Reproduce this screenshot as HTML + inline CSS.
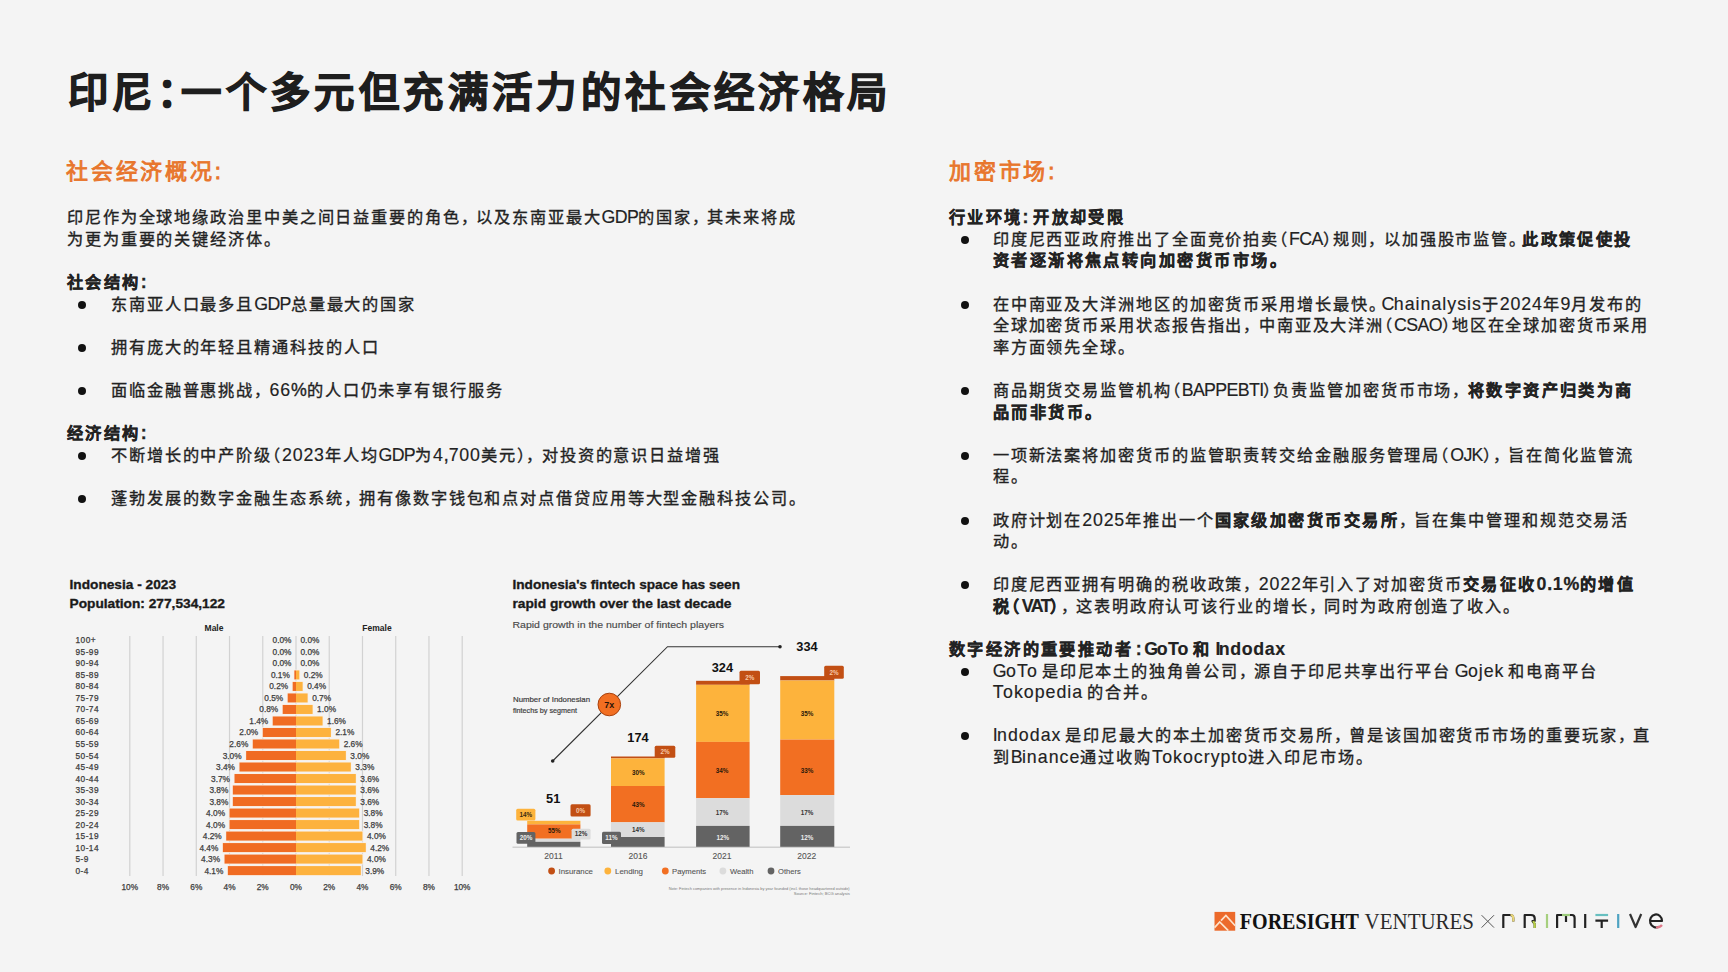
<!DOCTYPE html>
<html lang="zh-CN"><head><meta charset="utf-8">
<style>
*{margin:0;padding:0;box-sizing:border-box}
html,body{width:1728px;height:972px;overflow:hidden;background:#f4f4f4}
body{position:relative;font-family:"Liberation Sans",sans-serif;color:#1f1f1f}
.t{position:absolute;white-space:nowrap}
#title{left:68px;top:64.5px;font-size:40.4px;font-weight:bold;color:#1e1e1e;line-height:56px;letter-spacing:4.4px;-webkit-text-stroke:1.1px #1e1e1e}
.h2{font-size:22px;font-weight:normal;color:#e8762d;line-height:30px;letter-spacing:2.8px;-webkit-text-stroke:0.9px #e8762d}
.col{position:absolute;font-size:17.8px;line-height:21.6px;color:#222;letter-spacing:0px;word-spacing:-1.2px;-webkit-text-stroke:0.35px #222}
.col p{white-space:nowrap;height:21.6px}
.col .b,.col b{font-weight:bold;letter-spacing:0.55px;word-spacing:-1.5px;-webkit-text-stroke:0.3px #222}
.col li{list-style:none;position:relative;padding-left:44px}
.col li::before{content:"";position:absolute;left:11px;top:7px;width:8px;height:8px;border-radius:50%;background:#111}
.gap{height:21.6px}
.r li::before{left:12.2px}
.h{font-feature-settings:"halt";font-style:normal}
.c{font-feature-settings:"halt";font-style:normal;margin-right:5.5px}
.U{text-decoration:none;letter-spacing:-0.65px;-webkit-text-stroke-width:0.15px}
.L{text-decoration:none;letter-spacing:1px;-webkit-text-stroke-width:0.15px}
.D{text-decoration:none;letter-spacing:0.8px;-webkit-text-stroke-width:0.15px}
.b .U,b .U{letter-spacing:-1.5px}
.b .L,b .L{letter-spacing:0.6px}
.C{font-size:16.2px;letter-spacing:1.9px}
.b .C,b .C{letter-spacing:2.45px}
.p{font-feature-settings:"halt";font-style:normal;margin-right:3px}
</style></head><body>
<div id="title" class="t">印尼<i class="h">：</i>一个多元但充满活力的社会经济格局</div>

<div class="t h2" style="left:66px;top:157px">社会经济概况:</div>
<div class="t h2" style="left:949px;top:157px">加密市场:</div>

<div class="col" style="left:67px;top:207.2px;width:800px">
<p><span class="C">印尼作为全球地缘政治里中美之间日益重要的角色</span><i class="c"><span class="C">，</span></i><span class="C">以及东南亚最大</span><s class="U">GDP</s><span class="C">的国家</span><i class="c"><span class="C">，</span></i><span class="C">其未来将成</span></p>
<p><span class="C">为更为重要的关键经济体。</span></p>
<div class="gap"></div>
<p class="b"><span class="C">社会结构</span>:</p>
<ul>
<li><p><span class="C">东南亚人口最多且</span><s class="U">GDP</s><span class="C">总量最大的国家</span></p></li>
<div class="gap"></div>
<li><p><span class="C">拥有庞大的年轻且精通科技的人口</span></p></li>
<div class="gap"></div>
<li><p><span class="C">面临金融普惠挑战</span><i class="c"><span class="C">，</span></i><u class="D">66</u>%<span class="C">的人口仍未享有银行服务</span></p></li>
</ul>
<div class="gap"></div>
<p class="b"><span class="C">经济结构</span>:</p>
<ul>
<li><p><span class="C">不断增长的中产阶级</span><i class="h"><span class="C">（</span></i><u class="D">2023</u><span class="C">年人均</span><s class="U">GDP</s><span class="C">为</span><u class="D">4</u>,<u class="D">700</u><span class="C">美元</span><i class="h"><span class="C">）</span></i><i class="c"><span class="C">，</span></i><span class="C">对投资的意识日益增强</span></p></li>
<div class="gap"></div>
<li><p><span class="C">蓬勃发展的数字金融生态系统</span><i class="c"><span class="C">，</span></i><span class="C">拥有像数字钱包和点对点借贷应用等大型金融科技公司。</span></p></li>
</ul>
</div>

<div class="col r" style="left:948.8px;top:207.2px;width:720px">
<p class="b"><span class="C">行业环境</span>: <span class="C">开放却受限</span></p>
<ul>
<li><p><span class="C">印度尼西亚政府推出了全面竞价拍卖</span><i class="h"><span class="C">（</span></i><s class="U">FCA</s><i class="h"><span class="C">）</span></i><span class="C">规则</span><i class="c"><span class="C">，</span></i><span class="C">以加强股市监管</span><i class="p"><span class="C">。</span></i><b><span class="C">此政策促使投</span></b></p><p class="b"><span class="C">资者逐渐将焦点转向加密货币市场。</span></p></li>
<div class="gap"></div>
<li><p><span class="C">在中南亚及大洋洲地区的加密货币采用增长最快</span><i class="p"><span class="C">。</span></i><s class="U">C</s><s class="L">hainalysis</s><span class="C">于</span><u class="D">2024</u><span class="C">年</span><u class="D">9</u><span class="C">月发布的</span></p><p><span class="C">全球加密货币采用状态报告指出</span><i class="c"><span class="C">，</span></i><span class="C">中南亚及大洋洲</span><i class="h"><span class="C">（</span></i><s class="U">CSAO</s><i class="h"><span class="C">）</span></i><span class="C">地区在全球加密货币采用</span></p><p><span class="C">率方面领先全球。</span></p></li>
<div class="gap"></div>
<li><p><span class="C">商品期货交易监管机构</span><i class="h"><span class="C">（</span></i><s class="U">BAPPEBTI</s><i class="h"><span class="C">）</span></i><span class="C">负责监管加密货币市场</span><i class="c"><span class="C">，</span></i><b><span class="C">将数字资产归类为商</span></b></p><p class="b"><span class="C">品而非货币。</span></p></li>
<div class="gap"></div>
<li><p><span class="C">一项新法案将加密货币的监管职责转交给金融服务管理局</span><i class="h"><span class="C">（</span></i><s class="U">OJK</s><i class="h"><span class="C">）</span></i><i class="c"><span class="C">，</span></i><span class="C">旨在简化监管流</span></p><p><span class="C">程。</span></p></li>
<div class="gap"></div>
<li><p><span class="C">政府计划在</span><u class="D">2025</u><span class="C">年推出一个</span><b><span class="C">国家级加密货币交易所</span></b><i class="c"><span class="C">，</span></i><span class="C">旨在集中管理和规范交易活</span></p><p><span class="C">动。</span></p></li>
<div class="gap"></div>
<li><p><span class="C">印度尼西亚拥有明确的税收政策</span><i class="c"><span class="C">，</span></i><u class="D">2022</u><span class="C">年引入了对加密货币</span><b><span class="C">交易征收</span><u class="D">0</u>.<u class="D">1</u>%<span class="C">的增值</span></b></p><p><b><span class="C">税</span><i class="h"><span class="C">（</span></i><s class="U">VAT</s><i class="h"><span class="C">）</span></i></b><i class="c"><span class="C">，</span></i><span class="C">这表明政府认可该行业的增长</span><i class="c"><span class="C">，</span></i><span class="C">同时为政府创造了收入。</span></p></li>
</ul>
<div class="gap"></div>
<p class="b"><span class="C">数字经济的重要推动者</span><i style="font-style:normal;margin:0 2px 0 2.5px">:</i><s class="U">G</s><s class="L">o</s><s class="U">T</s><s class="L">o</s> <span class="C">和</span> <s class="U">I</s><s class="L">ndodax</s></p>
<ul>
<li><p><s class="U">G</s><s class="L">o</s><s class="U">T</s><s class="L">o</s> <span class="C">是印尼本土的独角兽公司</span><i class="c"><span class="C">，</span></i><span class="C">源自于印尼共享出行平台</span> <s class="U">G</s><s class="L">ojek</s> <span class="C">和电商平台</span></p><p><s class="U">T</s><s class="L">okopedia</s> <span class="C">的合并。</span></p></li>
<div class="gap"></div>
<li><p><s class="U">I</s><s class="L">ndodax</s> <span class="C">是印尼最大的本土加密货币交易所</span><i class="c"><span class="C">，</span></i><span class="C">曾是该国加密货币市场的重要玩家</span><i class="c"><span class="C">，</span></i><span class="C">直</span></p><p><span class="C">到</span><s class="U">B</s><s class="L">inance</s><span class="C">通过收购</span><s class="U">T</s><s class="L">okocrypto</s><span class="C">进入印尼市场。</span></p></li>
</ul>
</div>

<svg id="charts" width="1728" height="972" viewBox="0 0 1728 972" style="position:absolute;left:0;top:0">
<g font-family="Liberation Sans, sans-serif">
<text x="69.5" y="589" font-size="13.5" font-weight="bold" fill="#1a1a1a" stroke="#1a1a1a" stroke-width="0.35" textLength="106.5" lengthAdjust="spacingAndGlyphs">Indonesia - 2023</text>
<text x="69.5" y="607.6" font-size="13.5" font-weight="bold" fill="#1a1a1a" stroke="#1a1a1a" stroke-width="0.35" textLength="155.5" lengthAdjust="spacingAndGlyphs">Population: 277,534,122</text>
<text x="214" y="631" font-size="8.5" font-weight="bold" fill="#222" text-anchor="middle">Male</text>
<text x="377" y="631" font-size="8.5" font-weight="bold" fill="#222" text-anchor="middle">Female</text>
<rect x="129.20" y="636" width="1.2" height="240" fill="#d2d2d2"/>
<text x="129.80" y="889.5" font-size="8.3" fill="#3d3d3d" text-anchor="middle" stroke="#3d3d3d" stroke-width="0.25">10%</text>
<rect x="162.44" y="636" width="1.2" height="240" fill="#d2d2d2"/>
<text x="163.04" y="889.5" font-size="8.3" fill="#3d3d3d" text-anchor="middle" stroke="#3d3d3d" stroke-width="0.25">8%</text>
<rect x="195.68" y="636" width="1.2" height="240" fill="#d2d2d2"/>
<text x="196.28" y="889.5" font-size="8.3" fill="#3d3d3d" text-anchor="middle" stroke="#3d3d3d" stroke-width="0.25">6%</text>
<rect x="228.92" y="636" width="1.2" height="240" fill="#d2d2d2"/>
<text x="229.52" y="889.5" font-size="8.3" fill="#3d3d3d" text-anchor="middle" stroke="#3d3d3d" stroke-width="0.25">4%</text>
<rect x="262.16" y="636" width="1.2" height="240" fill="#d2d2d2"/>
<text x="262.76" y="889.5" font-size="8.3" fill="#3d3d3d" text-anchor="middle" stroke="#3d3d3d" stroke-width="0.25">2%</text>
<rect x="295.40" y="636" width="1.2" height="240" fill="#d2d2d2"/>
<text x="296.00" y="889.5" font-size="8.3" fill="#3d3d3d" text-anchor="middle" stroke="#3d3d3d" stroke-width="0.25">0%</text>
<rect x="328.64" y="636" width="1.2" height="240" fill="#d2d2d2"/>
<text x="329.24" y="889.5" font-size="8.3" fill="#3d3d3d" text-anchor="middle" stroke="#3d3d3d" stroke-width="0.25">2%</text>
<rect x="361.88" y="636" width="1.2" height="240" fill="#d2d2d2"/>
<text x="362.48" y="889.5" font-size="8.3" fill="#3d3d3d" text-anchor="middle" stroke="#3d3d3d" stroke-width="0.25">4%</text>
<rect x="395.12" y="636" width="1.2" height="240" fill="#d2d2d2"/>
<text x="395.72" y="889.5" font-size="8.3" fill="#3d3d3d" text-anchor="middle" stroke="#3d3d3d" stroke-width="0.25">6%</text>
<rect x="428.36" y="636" width="1.2" height="240" fill="#d2d2d2"/>
<text x="428.96" y="889.5" font-size="8.3" fill="#3d3d3d" text-anchor="middle" stroke="#3d3d3d" stroke-width="0.25">8%</text>
<rect x="461.60" y="636" width="1.2" height="240" fill="#d2d2d2"/>
<text x="462.20" y="889.5" font-size="8.3" fill="#3d3d3d" text-anchor="middle" stroke="#3d3d3d" stroke-width="0.25">10%</text>
<text x="291.50" y="643.40" font-size="8.3" fill="#3d3d3d" text-anchor="end" stroke="#3d3d3d" stroke-width="0.25">0.0%</text>
<text x="300.50" y="643.40" font-size="8.3" fill="#3d3d3d" stroke="#3d3d3d" stroke-width="0.25">0.0%</text>
<text x="75.5" y="643.40" font-size="8.3" fill="#3d3d3d" letter-spacing="0.45" stroke="#3d3d3d" stroke-width="0.25">100+</text>
<text x="291.50" y="654.91" font-size="8.3" fill="#3d3d3d" text-anchor="end" stroke="#3d3d3d" stroke-width="0.25">0.0%</text>
<text x="300.50" y="654.91" font-size="8.3" fill="#3d3d3d" stroke="#3d3d3d" stroke-width="0.25">0.0%</text>
<text x="75.5" y="654.91" font-size="8.3" fill="#3d3d3d" letter-spacing="0.45" stroke="#3d3d3d" stroke-width="0.25">95-99</text>
<text x="291.50" y="666.42" font-size="8.3" fill="#3d3d3d" text-anchor="end" stroke="#3d3d3d" stroke-width="0.25">0.0%</text>
<text x="300.50" y="666.42" font-size="8.3" fill="#3d3d3d" stroke="#3d3d3d" stroke-width="0.25">0.0%</text>
<text x="75.5" y="666.42" font-size="8.3" fill="#3d3d3d" letter-spacing="0.45" stroke="#3d3d3d" stroke-width="0.25">90-94</text>
<rect x="293.54" y="669.63" width="6.59" height="10.6" fill="#f9efe6"/>
<rect x="294.34" y="670.43" width="1.66" height="9" fill="#f06b22"/>
<rect x="296.00" y="670.43" width="3.32" height="9" fill="#fdb23e"/>
<text x="289.84" y="677.93" font-size="8.3" fill="#3d3d3d" text-anchor="end" stroke="#3d3d3d" stroke-width="0.25">0.1%</text>
<text x="303.82" y="677.93" font-size="8.3" fill="#3d3d3d" stroke="#3d3d3d" stroke-width="0.25">0.2%</text>
<text x="75.5" y="677.93" font-size="8.3" fill="#3d3d3d" letter-spacing="0.45" stroke="#3d3d3d" stroke-width="0.25">85-89</text>
<rect x="291.88" y="681.14" width="11.57" height="10.6" fill="#f9efe6"/>
<rect x="292.68" y="681.94" width="3.32" height="9" fill="#f06b22"/>
<rect x="296.00" y="681.94" width="6.65" height="9" fill="#fdb23e"/>
<text x="288.18" y="689.44" font-size="8.3" fill="#3d3d3d" text-anchor="end" stroke="#3d3d3d" stroke-width="0.25">0.2%</text>
<text x="307.15" y="689.44" font-size="8.3" fill="#3d3d3d" stroke="#3d3d3d" stroke-width="0.25">0.4%</text>
<text x="75.5" y="689.44" font-size="8.3" fill="#3d3d3d" letter-spacing="0.45" stroke="#3d3d3d" stroke-width="0.25">80-84</text>
<rect x="286.89" y="692.65" width="21.54" height="10.6" fill="#f9efe6"/>
<rect x="287.69" y="693.45" width="8.31" height="9" fill="#f06b22"/>
<rect x="296.00" y="693.45" width="11.63" height="9" fill="#fdb23e"/>
<text x="283.19" y="700.95" font-size="8.3" fill="#3d3d3d" text-anchor="end" stroke="#3d3d3d" stroke-width="0.25">0.5%</text>
<text x="312.13" y="700.95" font-size="8.3" fill="#3d3d3d" stroke="#3d3d3d" stroke-width="0.25">0.7%</text>
<text x="75.5" y="700.95" font-size="8.3" fill="#3d3d3d" letter-spacing="0.45" stroke="#3d3d3d" stroke-width="0.25">75-79</text>
<rect x="281.90" y="704.16" width="31.52" height="10.6" fill="#f9efe6"/>
<rect x="282.70" y="704.96" width="13.30" height="9" fill="#f06b22"/>
<rect x="296.00" y="704.96" width="16.62" height="9" fill="#fdb23e"/>
<text x="278.20" y="712.46" font-size="8.3" fill="#3d3d3d" text-anchor="end" stroke="#3d3d3d" stroke-width="0.25">0.8%</text>
<text x="317.12" y="712.46" font-size="8.3" fill="#3d3d3d" stroke="#3d3d3d" stroke-width="0.25">1.0%</text>
<text x="75.5" y="712.46" font-size="8.3" fill="#3d3d3d" letter-spacing="0.45" stroke="#3d3d3d" stroke-width="0.25">70-74</text>
<rect x="271.93" y="715.67" width="51.46" height="10.6" fill="#f9efe6"/>
<rect x="272.73" y="716.47" width="23.27" height="9" fill="#f06b22"/>
<rect x="296.00" y="716.47" width="26.59" height="9" fill="#fdb23e"/>
<text x="268.23" y="723.97" font-size="8.3" fill="#3d3d3d" text-anchor="end" stroke="#3d3d3d" stroke-width="0.25">1.4%</text>
<text x="327.09" y="723.97" font-size="8.3" fill="#3d3d3d" stroke="#3d3d3d" stroke-width="0.25">1.6%</text>
<text x="75.5" y="723.97" font-size="8.3" fill="#3d3d3d" letter-spacing="0.45" stroke="#3d3d3d" stroke-width="0.25">65-69</text>
<rect x="261.96" y="727.18" width="69.74" height="10.6" fill="#f9efe6"/>
<rect x="262.76" y="727.98" width="33.24" height="9" fill="#f06b22"/>
<rect x="296.00" y="727.98" width="34.90" height="9" fill="#fdb23e"/>
<text x="258.26" y="735.48" font-size="8.3" fill="#3d3d3d" text-anchor="end" stroke="#3d3d3d" stroke-width="0.25">2.0%</text>
<text x="335.40" y="735.48" font-size="8.3" fill="#3d3d3d" stroke="#3d3d3d" stroke-width="0.25">2.1%</text>
<text x="75.5" y="735.48" font-size="8.3" fill="#3d3d3d" letter-spacing="0.45" stroke="#3d3d3d" stroke-width="0.25">60-64</text>
<rect x="251.99" y="738.69" width="88.02" height="10.6" fill="#f9efe6"/>
<rect x="252.79" y="739.49" width="43.21" height="9" fill="#f06b22"/>
<rect x="296.00" y="739.49" width="43.21" height="9" fill="#fdb23e"/>
<text x="248.29" y="746.99" font-size="8.3" fill="#3d3d3d" text-anchor="end" stroke="#3d3d3d" stroke-width="0.25">2.6%</text>
<text x="343.71" y="746.99" font-size="8.3" fill="#3d3d3d" stroke="#3d3d3d" stroke-width="0.25">2.6%</text>
<text x="75.5" y="746.99" font-size="8.3" fill="#3d3d3d" letter-spacing="0.45" stroke="#3d3d3d" stroke-width="0.25">55-59</text>
<rect x="245.34" y="750.20" width="101.32" height="10.6" fill="#f9efe6"/>
<rect x="246.14" y="751.00" width="49.86" height="9" fill="#f06b22"/>
<rect x="296.00" y="751.00" width="49.86" height="9" fill="#fdb23e"/>
<text x="241.64" y="758.50" font-size="8.3" fill="#3d3d3d" text-anchor="end" stroke="#3d3d3d" stroke-width="0.25">3.0%</text>
<text x="350.36" y="758.50" font-size="8.3" fill="#3d3d3d" stroke="#3d3d3d" stroke-width="0.25">3.0%</text>
<text x="75.5" y="758.50" font-size="8.3" fill="#3d3d3d" letter-spacing="0.45" stroke="#3d3d3d" stroke-width="0.25">50-54</text>
<rect x="238.69" y="761.71" width="112.95" height="10.6" fill="#f9efe6"/>
<rect x="239.49" y="762.51" width="56.51" height="9" fill="#f06b22"/>
<rect x="296.00" y="762.51" width="54.85" height="9" fill="#fdb23e"/>
<text x="234.99" y="770.01" font-size="8.3" fill="#3d3d3d" text-anchor="end" stroke="#3d3d3d" stroke-width="0.25">3.4%</text>
<text x="355.35" y="770.01" font-size="8.3" fill="#3d3d3d" stroke="#3d3d3d" stroke-width="0.25">3.3%</text>
<text x="75.5" y="770.01" font-size="8.3" fill="#3d3d3d" letter-spacing="0.45" stroke="#3d3d3d" stroke-width="0.25">45-49</text>
<rect x="233.71" y="773.22" width="122.93" height="10.6" fill="#f9efe6"/>
<rect x="234.51" y="774.02" width="61.49" height="9" fill="#f06b22"/>
<rect x="296.00" y="774.02" width="59.83" height="9" fill="#fdb23e"/>
<text x="230.01" y="781.52" font-size="8.3" fill="#3d3d3d" text-anchor="end" stroke="#3d3d3d" stroke-width="0.25">3.7%</text>
<text x="360.33" y="781.52" font-size="8.3" fill="#3d3d3d" stroke="#3d3d3d" stroke-width="0.25">3.6%</text>
<text x="75.5" y="781.52" font-size="8.3" fill="#3d3d3d" letter-spacing="0.45" stroke="#3d3d3d" stroke-width="0.25">40-44</text>
<rect x="232.04" y="784.73" width="124.59" height="10.6" fill="#f9efe6"/>
<rect x="232.84" y="785.53" width="63.16" height="9" fill="#f06b22"/>
<rect x="296.00" y="785.53" width="59.83" height="9" fill="#fdb23e"/>
<text x="228.34" y="793.03" font-size="8.3" fill="#3d3d3d" text-anchor="end" stroke="#3d3d3d" stroke-width="0.25">3.8%</text>
<text x="360.33" y="793.03" font-size="8.3" fill="#3d3d3d" stroke="#3d3d3d" stroke-width="0.25">3.6%</text>
<text x="75.5" y="793.03" font-size="8.3" fill="#3d3d3d" letter-spacing="0.45" stroke="#3d3d3d" stroke-width="0.25">35-39</text>
<rect x="232.04" y="796.24" width="124.59" height="10.6" fill="#f9efe6"/>
<rect x="232.84" y="797.04" width="63.16" height="9" fill="#f06b22"/>
<rect x="296.00" y="797.04" width="59.83" height="9" fill="#fdb23e"/>
<text x="228.34" y="804.54" font-size="8.3" fill="#3d3d3d" text-anchor="end" stroke="#3d3d3d" stroke-width="0.25">3.8%</text>
<text x="360.33" y="804.54" font-size="8.3" fill="#3d3d3d" stroke="#3d3d3d" stroke-width="0.25">3.6%</text>
<text x="75.5" y="804.54" font-size="8.3" fill="#3d3d3d" letter-spacing="0.45" stroke="#3d3d3d" stroke-width="0.25">30-34</text>
<rect x="228.72" y="807.75" width="131.24" height="10.6" fill="#f9efe6"/>
<rect x="229.52" y="808.55" width="66.48" height="9" fill="#f06b22"/>
<rect x="296.00" y="808.55" width="63.16" height="9" fill="#fdb23e"/>
<text x="225.02" y="816.05" font-size="8.3" fill="#3d3d3d" text-anchor="end" stroke="#3d3d3d" stroke-width="0.25">4.0%</text>
<text x="363.66" y="816.05" font-size="8.3" fill="#3d3d3d" stroke="#3d3d3d" stroke-width="0.25">3.8%</text>
<text x="75.5" y="816.05" font-size="8.3" fill="#3d3d3d" letter-spacing="0.45" stroke="#3d3d3d" stroke-width="0.25">25-29</text>
<rect x="228.72" y="819.26" width="131.24" height="10.6" fill="#f9efe6"/>
<rect x="229.52" y="820.06" width="66.48" height="9" fill="#f06b22"/>
<rect x="296.00" y="820.06" width="63.16" height="9" fill="#fdb23e"/>
<text x="225.02" y="827.56" font-size="8.3" fill="#3d3d3d" text-anchor="end" stroke="#3d3d3d" stroke-width="0.25">4.0%</text>
<text x="363.66" y="827.56" font-size="8.3" fill="#3d3d3d" stroke="#3d3d3d" stroke-width="0.25">3.8%</text>
<text x="75.5" y="827.56" font-size="8.3" fill="#3d3d3d" letter-spacing="0.45" stroke="#3d3d3d" stroke-width="0.25">20-24</text>
<rect x="225.40" y="830.77" width="137.88" height="10.6" fill="#f9efe6"/>
<rect x="226.20" y="831.57" width="69.80" height="9" fill="#f06b22"/>
<rect x="296.00" y="831.57" width="66.48" height="9" fill="#fdb23e"/>
<text x="221.70" y="839.07" font-size="8.3" fill="#3d3d3d" text-anchor="end" stroke="#3d3d3d" stroke-width="0.25">4.2%</text>
<text x="366.98" y="839.07" font-size="8.3" fill="#3d3d3d" stroke="#3d3d3d" stroke-width="0.25">4.0%</text>
<text x="75.5" y="839.07" font-size="8.3" fill="#3d3d3d" letter-spacing="0.45" stroke="#3d3d3d" stroke-width="0.25">15-19</text>
<rect x="222.07" y="842.28" width="144.53" height="10.6" fill="#f9efe6"/>
<rect x="222.87" y="843.08" width="73.13" height="9" fill="#f06b22"/>
<rect x="296.00" y="843.08" width="69.80" height="9" fill="#fdb23e"/>
<text x="218.37" y="850.58" font-size="8.3" fill="#3d3d3d" text-anchor="end" stroke="#3d3d3d" stroke-width="0.25">4.4%</text>
<text x="370.30" y="850.58" font-size="8.3" fill="#3d3d3d" stroke="#3d3d3d" stroke-width="0.25">4.2%</text>
<text x="75.5" y="850.58" font-size="8.3" fill="#3d3d3d" letter-spacing="0.45" stroke="#3d3d3d" stroke-width="0.25">10-14</text>
<rect x="223.73" y="853.79" width="139.55" height="10.6" fill="#f9efe6"/>
<rect x="224.53" y="854.59" width="71.47" height="9" fill="#f06b22"/>
<rect x="296.00" y="854.59" width="66.48" height="9" fill="#fdb23e"/>
<text x="220.03" y="862.09" font-size="8.3" fill="#3d3d3d" text-anchor="end" stroke="#3d3d3d" stroke-width="0.25">4.3%</text>
<text x="366.98" y="862.09" font-size="8.3" fill="#3d3d3d" stroke="#3d3d3d" stroke-width="0.25">4.0%</text>
<text x="75.5" y="862.09" font-size="8.3" fill="#3d3d3d" letter-spacing="0.45" stroke="#3d3d3d" stroke-width="0.25">5-9</text>
<rect x="227.06" y="865.30" width="134.56" height="10.6" fill="#f9efe6"/>
<rect x="227.86" y="866.10" width="68.14" height="9" fill="#f06b22"/>
<rect x="296.00" y="866.10" width="64.82" height="9" fill="#fdb23e"/>
<text x="223.36" y="873.60" font-size="8.3" fill="#3d3d3d" text-anchor="end" stroke="#3d3d3d" stroke-width="0.25">4.1%</text>
<text x="365.32" y="873.60" font-size="8.3" fill="#3d3d3d" stroke="#3d3d3d" stroke-width="0.25">3.9%</text>
<text x="75.5" y="873.60" font-size="8.3" fill="#3d3d3d" letter-spacing="0.45" stroke="#3d3d3d" stroke-width="0.25">0-4</text>
</g>
<g font-family="Liberation Sans, sans-serif">
<text x="512.5" y="589" font-size="13.5" font-weight="bold" fill="#1a1a1a" stroke="#1a1a1a" stroke-width="0.35" textLength="227.5" lengthAdjust="spacingAndGlyphs">Indonesia's fintech space has seen</text>
<text x="512.5" y="607.6" font-size="13.5" font-weight="bold" fill="#1a1a1a" stroke="#1a1a1a" stroke-width="0.35" textLength="219" lengthAdjust="spacingAndGlyphs">rapid growth over the last decade</text>
<text x="512.5" y="628" font-size="9.5" fill="#4a4a4a" stroke="#4a4a4a" stroke-width="0.15" textLength="211.5" lengthAdjust="spacingAndGlyphs">Rapid growth in the number of fintech players</text>
<rect x="512.5" y="846.6" width="337.5" height="1.2" fill="#c8c8c8"/>
<rect x="696.1" y="680.8" width="53.5" height="4.00" fill="#c24f14"/>
<rect x="696.1" y="684.8" width="53.5" height="57.10" fill="#fdb33c"/>
<rect x="696.1" y="741.9" width="53.5" height="56.30" fill="#f26f22"/>
<rect x="696.1" y="798.2" width="53.5" height="27.70" fill="#dcdcdc"/>
<rect x="696.1" y="825.9" width="53.5" height="20.90" fill="#636363"/>
<rect x="780.2" y="676.1" width="54.1" height="4.40" fill="#c24f14"/>
<rect x="780.2" y="680.5" width="54.1" height="59.10" fill="#fdb33c"/>
<rect x="780.2" y="739.6" width="54.1" height="55.50" fill="#f26f22"/>
<rect x="780.2" y="795.1" width="54.1" height="30.80" fill="#dcdcdc"/>
<rect x="780.2" y="825.9" width="54.1" height="20.90" fill="#636363"/>
<rect x="611" y="756.5" width="53.6" height="1.90" fill="#c24f14"/>
<rect x="611" y="758.4" width="53.6" height="27.60" fill="#fdb33c"/>
<rect x="611" y="786" width="53.6" height="36.30" fill="#f26f22"/>
<rect x="611" y="822.3" width="53.6" height="14.70" fill="#dcdcdc"/>
<rect x="611" y="837" width="53.6" height="9.80" fill="#636363"/>
<rect x="527.2" y="820.8" width="53.2" height="3.60" fill="#fdb33c"/>
<rect x="527.2" y="824.4" width="53.2" height="14.30" fill="#f26f22"/>
<rect x="527.2" y="838.7" width="53.2" height="3.10" fill="#dcdcdc"/>
<rect x="527.2" y="841.8" width="53.2" height="5.00" fill="#636363"/>
<rect x="739.5" y="670.8" width="20.50" height="13.40" rx="1.5" fill="#c24f14"/>
<text x="749.75" y="679.70" font-size="6.3" font-weight="bold" fill="#f7c9a8" text-anchor="middle">2%</text>
<rect x="824.2" y="665.8" width="19.60" height="13.00" rx="1.5" fill="#c24f14"/>
<text x="834.00" y="674.50" font-size="6.3" font-weight="bold" fill="#f7c9a8" text-anchor="middle">2%</text>
<rect x="654.7" y="745.8" width="20.60" height="12.00" rx="1.5" fill="#c24f14"/>
<text x="665.00" y="754.00" font-size="6.3" font-weight="bold" fill="#f7c9a8" text-anchor="middle">2%</text>
<rect x="570.5" y="804.2" width="20.10" height="12.30" rx="1.5" fill="#c24f14"/>
<text x="580.55" y="812.55" font-size="6.3" font-weight="bold" fill="#f7c9a8" text-anchor="middle">0%</text>
<rect x="516.2" y="808.8" width="19.20" height="11.80" rx="1.5" fill="#fdb33c"/>
<text x="525.80" y="816.90" font-size="6.3" font-weight="bold" fill="#3a2a10" text-anchor="middle">14%</text>
<rect x="571.6" y="828.8" width="19.00" height="10.70" rx="1.5" fill="#dcdcdc"/>
<text x="581.10" y="836.35" font-size="6.3" font-weight="bold" fill="#333" text-anchor="middle">12%</text>
<rect x="516.5" y="832.1" width="18.90" height="11.60" rx="1.5" fill="#636363"/>
<text x="525.95" y="840.10" font-size="6.3" font-weight="bold" fill="#eee" text-anchor="middle">20%</text>
<rect x="602" y="831.8" width="19.00" height="12.20" rx="1.5" fill="#636363"/>
<text x="611.50" y="840.10" font-size="6.3" font-weight="bold" fill="#eee" text-anchor="middle">11%</text>
<text x="722" y="716.20" font-size="6.3" font-weight="bold" fill="#2a1a0a" text-anchor="middle">35%</text>
<text x="807" y="716.20" font-size="6.3" font-weight="bold" fill="#2a1a0a" text-anchor="middle">35%</text>
<text x="722" y="772.80" font-size="6.3" font-weight="bold" fill="#2a1a0a" text-anchor="middle">34%</text>
<text x="807" y="772.80" font-size="6.3" font-weight="bold" fill="#2a1a0a" text-anchor="middle">33%</text>
<text x="722" y="815.20" font-size="6.3" font-weight="bold" fill="#333" text-anchor="middle">17%</text>
<text x="807" y="815.20" font-size="6.3" font-weight="bold" fill="#333" text-anchor="middle">17%</text>
<text x="722.9" y="840.30" font-size="6.3" font-weight="bold" fill="#eee" text-anchor="middle">12%</text>
<text x="807" y="840.30" font-size="6.3" font-weight="bold" fill="#eee" text-anchor="middle">12%</text>
<text x="638.3" y="775.10" font-size="6.3" font-weight="bold" fill="#2a1a0a" text-anchor="middle">30%</text>
<text x="638.3" y="807.20" font-size="6.3" font-weight="bold" fill="#2a1a0a" text-anchor="middle">43%</text>
<text x="638.3" y="831.90" font-size="6.3" font-weight="bold" fill="#333" text-anchor="middle">14%</text>
<text x="554.4" y="833.20" font-size="6.3" font-weight="bold" fill="#2a1a0a" text-anchor="middle">55%</text>
<text x="553.2" y="802.5" font-size="12.8" font-weight="bold" fill="#111" text-anchor="middle">51</text>
<text x="638" y="742.3" font-size="12.8" font-weight="bold" fill="#111" text-anchor="middle">174</text>
<text x="722.4" y="671.7" font-size="12.8" font-weight="bold" fill="#111" text-anchor="middle">324</text>
<text x="807" y="651" font-size="12.8" font-weight="bold" fill="#111" text-anchor="middle">334</text>
<polyline points="552.7,761 667.5,646.7 780,646.7" fill="none" stroke="#333" stroke-width="1.1"/>
<circle cx="552.7" cy="761" r="1.8" fill="#222"/><circle cx="780" cy="646.7" r="1.8" fill="#222"/>
<circle cx="609.3" cy="704.5" r="11.3" fill="#f26f22" stroke="#a8400c" stroke-width="1"/>
<text x="609.3" y="707.8" font-size="9" font-weight="bold" fill="#2a1408" text-anchor="middle">7x</text>
<text x="513" y="702.3" font-size="7.8" fill="#3d3d3d" stroke="#3d3d3d" stroke-width="0.2" textLength="77" lengthAdjust="spacingAndGlyphs">Number of Indonesian</text>
<text x="513" y="713" font-size="7.8" fill="#3d3d3d" stroke="#3d3d3d" stroke-width="0.2" textLength="64" lengthAdjust="spacingAndGlyphs">fintechs by segment</text>
<text x="553.5" y="859" font-size="8.5" fill="#555" text-anchor="middle" stroke="#555" stroke-width="0.1">2011</text>
<text x="638" y="859" font-size="8.5" fill="#555" text-anchor="middle" stroke="#555" stroke-width="0.1">2016</text>
<text x="722" y="859" font-size="8.5" fill="#555" text-anchor="middle" stroke="#555" stroke-width="0.1">2021</text>
<text x="806.8" y="859" font-size="8.5" fill="#555" text-anchor="middle" stroke="#555" stroke-width="0.1">2022</text>
<circle cx="551.6" cy="871" r="3.4" fill="#c24f14"/>
<text x="558.5" y="873.8" font-size="7.8" fill="#555" stroke="#555" stroke-width="0.1" textLength="34.5" lengthAdjust="spacingAndGlyphs">Insurance</text>
<circle cx="607.8" cy="871" r="3.4" fill="#fdb33c"/>
<text x="615" y="873.8" font-size="7.8" fill="#555" stroke="#555" stroke-width="0.1" textLength="28" lengthAdjust="spacingAndGlyphs">Lending</text>
<circle cx="665.3" cy="871" r="3.4" fill="#f26f22"/>
<text x="672" y="873.8" font-size="7.8" fill="#555" stroke="#555" stroke-width="0.1" textLength="34.2" lengthAdjust="spacingAndGlyphs">Payments</text>
<circle cx="722.9" cy="871" r="3.4" fill="#dcdcdc"/>
<text x="729.9" y="873.8" font-size="7.8" fill="#555" stroke="#555" stroke-width="0.1" textLength="23.6" lengthAdjust="spacingAndGlyphs">Wealth</text>
<circle cx="771" cy="871" r="3.4" fill="#636363"/>
<text x="778" y="873.8" font-size="7.8" fill="#555" stroke="#555" stroke-width="0.1" textLength="22.7" lengthAdjust="spacingAndGlyphs">Others</text>
<text x="849.7" y="889.5" font-size="3.6" fill="#777" text-anchor="end" textLength="181" lengthAdjust="spacingAndGlyphs">Note: Fintech companies with presence in Indonesia by year founded (incl. those headquartered outside)</text>
<text x="849.7" y="894.6" font-size="3.6" fill="#777" text-anchor="end" textLength="56" lengthAdjust="spacingAndGlyphs">Source: Fintech; BCG analysis</text>
</g>
<g id="logo">
<rect x="1214.5" y="911.9" width="20.7" height="18.8" fill="#ec6a2b"/>
<polyline points="1221,920.6 1225.9,915.4 1235.2,925.8" fill="none" stroke="#fde3cc" stroke-width="1.7"/>
<polyline points="1214.5,927.6 1219.7,922 1228.3,930.7" fill="none" stroke="#fde3cc" stroke-width="1.7"/>
<text x="1239.8" y="929.2" font-family="Liberation Serif, serif" font-size="23.5" font-weight="bold" fill="#111" textLength="119.2" lengthAdjust="spacingAndGlyphs">FORESIGHT</text>
<text x="1364.6" y="929.2" font-family="Liberation Serif, serif" font-size="23.5" fill="#2a2a2a" textLength="109.4" lengthAdjust="spacingAndGlyphs">VENTURES</text>
<path d="M1481.6,915.2 L1494,927.6 M1494,915.2 L1481.6,927.6" stroke="#555" stroke-width="1" fill="none"/>
<g fill="none" stroke-width="2.2" stroke-linecap="butt" stroke-linejoin="round">
<path d="M1503.3,928 V915 H1510 Q1513.3,915 1513.3,918.3 V921.5" stroke="#222"/>
<path d="M1510.5,915 Q1513.3,915 1513.3,918.3 V921.5" stroke="#ead77a"/>
<path d="M1524.7,928 V915 H1531 Q1534.7,915 1534.7,918.3 V921 H1532.5 L1534.7,924 V928" stroke="#222"/>
<path d="M1533.2,921 L1534.7,924 V928" stroke="#b7cf4a"/>
<path d="M1547,914 V928" stroke="#a6cf7e"/>
<path d="M1557.1,928 V915 H1572 Q1574.6,915 1574.6,918 V928 M1566,915 V922" stroke="#222"/>
<path d="M1562,915 H1570" stroke="#9bcb7a"/>
<path d="M1585.2,914 V928" stroke="#222"/>
<path d="M1595.4,915 H1608.1" stroke="#67bfc0"/>
<path d="M1595.4,920.6 H1608.1 M1601.7,920.6 V928" stroke="#222"/>
<path d="M1618.2,914 V928" stroke="#4ea3c2"/>
<path d="M1630,914 L1635.6,927 L1641.2,914" stroke="#333"/>
<path d="M1650,921 H1662 A6,6.5 0 1 0 1659,926.6" stroke="#222"/>
<path d="M1656,927.5 Q1660,927.5 1662,925" stroke="#e07a8a"/>
</g>
</g>
</svg>
</body></html>
